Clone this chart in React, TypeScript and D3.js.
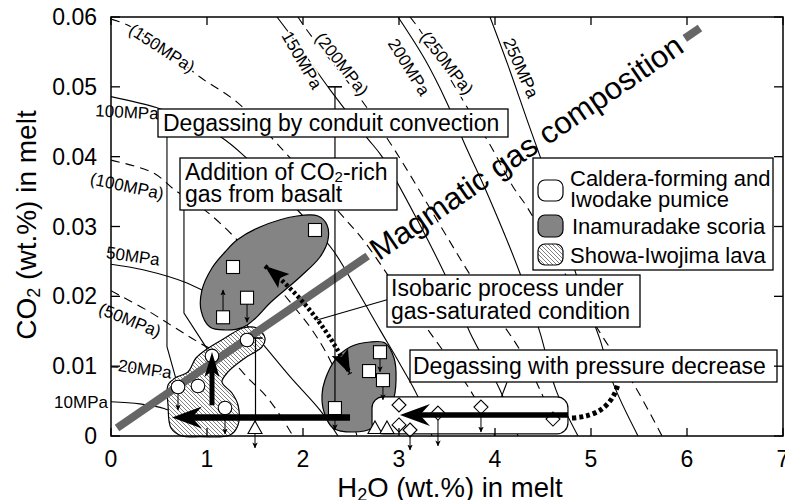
import React from 'react';
import * as d3 from 'd3';

type P = [number, number];

const xTickValues = [0, 1, 2, 3, 4, 5, 6, 7];
const yTickValues = [0, 0.01, 0.02, 0.03, 0.04, 0.05, 0.06];
const yTickLabels = ['0', '0.01', '0.02', '0.03', '0.04', '0.05', '0.06'];

// Solid isobars (H2O wt.%, CO2 wt.%)
const iso10MPa: P[] = [[0, 0.0049], [0.30, 0.0046], [0.56, 0.0039], [0.77, 0.0026], [0.91, 0]];
const iso20MPa: P[] = [[0, 0.0099], [0.41, 0.0093], [0.64, 0.0080], [0.82, 0.0052], [0.98, 0]];
const iso50MPa: P[] = [[0, 0.0246], [0.333, 0.0238], [0.792, 0.0219], [1.083, 0.0198], [1.344, 0.0169], [1.573, 0.0133], [1.865, 0.0085], [2.177, 0.0037], [2.365, 0]];
const iso100MPa: P[] = [[0, 0.0486], [0.479, 0.0470], [0.823, 0.0451], [1.156, 0.0427], [1.396, 0.0400], [1.708, 0.0357], [2.021, 0.0312], [2.3125, 0.0266], [2.5625, 0.0209], [2.802, 0.0152], [3.01, 0.0103], [3.198, 0.0056], [3.344, 0]];
const iso150MPa: P[] = [[1.729, 0.06], [1.969, 0.0556], [2.281, 0.0496], [2.667, 0.0427], [2.823, 0.0400], [3.219, 0.0302], [3.531, 0.0216], [3.740, 0.0148], [4.052, 0.0066], [4.240, 0]];
const iso200MPa: P[] = [[2.990, 0.06], [3.271, 0.0539], [3.5, 0.0477], [3.6875, 0.0417], [3.917, 0.0348], [4.260, 0.0233], [4.469, 0.0148], [4.635, 0.0066], [4.865, 0]];
const iso250MPa: P[] = [[3.948, 0.06], [4.135, 0.0531], [4.333, 0.0453], [4.552, 0.0367], [4.729, 0.0281], [4.9375, 0.0195], [5.094, 0.0138], [5.229, 0.0076], [5.490, 0]];

// Dashed isobars
const isoD50MPa: P[] = [[0, 0.0208], [0.375, 0.0180], [0.667, 0.0155], [0.927, 0.0133], [1.240, 0.0109], [1.448, 0.0080], [1.604, 0.0059], [1.760, 0.0030], [1.896, 0]];
const isoD100MPa: P[] = [[0, 0.0395], [0.4375, 0.0377], [0.667, 0.0352], [1.0, 0.0321], [1.3125, 0.0281], [1.604, 0.0235], [1.865, 0.0192], [2.094, 0.0152], [2.281, 0.0109], [2.4375, 0.0059], [2.5625, 0]];
const isoD150MPa: P[] = [[0, 0.0597], [0.167, 0.0589], [0.510, 0.0560], [0.927, 0.0514], [1.3125, 0.0478], [1.760, 0.0414], [2.385, 0.0319], [2.625, 0.0281], [2.958, 0.0216], [3.323, 0.0148], [3.740, 0.0066], [4.0, 0]];
const isoD200MPa: P[] = [[1.948, 0.06], [2.042, 0.0581], [2.594, 0.0484], [2.906, 0.0420], [3.115, 0.0374], [3.427, 0.0302], [3.740, 0.0231], [4.052, 0.0166], [4.260, 0.0123], [4.469, 0.0066], [4.677, 0]];
const isoD250MPa: P[] = [[3.115, 0.06], [3.219, 0.0581], [3.479, 0.0524], [3.708, 0.0471], [3.948, 0.0417], [4.1875, 0.0357], [4.333, 0.0328], [4.677, 0.0245], [5.094, 0.0148], [5.4375, 0.0076], [5.740, 0]];

const solidIsobars = [iso10MPa, iso20MPa, iso50MPa, iso100MPa, iso150MPa, iso200MPa, iso250MPa];
const dashedIsobars = [isoD50MPa, isoD100MPa, isoD150MPa, isoD200MPa, isoD250MPa];

// isobar labels: text, H2O, CO2, angle
const isobarLabelText = ['(150MPa)', '150MPa', '(200MPa)', '200MPa', '(250MPa)', '250MPa', '100MPa', '(100MPa)', '50MPa', '(50MPa)', '20MPa', '10MPa'];
const isobarLabelH2O = [0.531, 1.99, 2.406, 3.104, 3.5, 4.271, 0.167, 0.167, 0.229, 0.198, 0.354, -0.3125];
const isobarLabelCO2 = [0.05556, 0.05385, 0.05327, 0.05284, 0.05342, 0.0527, 0.0464, 0.0358, 0.02578, 0.01661, 0.0096, 0.00487];
const isobarLabelAngle = [33, 60, 52, 58, 52, 66, 3, 12, 8, 22, 8, 0];

// Magmatic gas composition trend
const magmaticGas: P[] = [[0.0625, 0.00115], [6.135, 0.05843]];

// Sample regions
const scoriaUpper: P[] = [[1.3125, 0.02807], [1.552, 0.02993], [1.9375, 0.0315], [2.156, 0.0315], [2.25, 0.03022], [2.26, 0.02807], [2.177, 0.02563], [1.969, 0.02277], [1.656, 0.01905], [1.5, 0.0168], [1.375, 0.01555], [1.1875, 0.01518], [1.031, 0.01561], [0.9375, 0.01804], [0.948, 0.02091], [1.052, 0.02406], [1.1875, 0.02635]];
const scoriaLower: P[] = [[2.229, 0.00802], [2.333, 0.01088], [2.49, 0.01275], [2.698, 0.01346], [2.854, 0.01332], [2.948, 0.01117], [2.969, 0.00802], [2.9375, 0.00516], [2.802, 0.00301], [2.719, 0.00115], [2.521, 0.00057], [2.3125, 0.00115], [2.219, 0.00344], [2.198, 0.00587]];
const lavaRegion: P[] = [[1.375, 0.01547], [1.521, 0.01547], [1.604, 0.01403], [1.573, 0.01275], [1.396, 0.01117], [1.219, 0.00917], [1.156, 0.00773], [1.26, 0.00616], [1.323, 0.00444], [1.323, 0.00158], [1.24, 0.00014], [0.927, -0.0001], [0.74, 0], [0.625, 0.00115], [0.594, 0.00444], [0.594, 0.0073], [0.667, 0.00831], [0.802, 0.00917], [0.885, 0.01117], [1.0, 0.01246], [1.1875, 0.01403]];
const pumiceH2O: P = [2.719, 4.76];
const pumiceCO2: P = [0.0003, 0.00559];

// Data points (arrowTo = value below detection shown by arrow; upper = upper bound bar)
const squares = [
  { h: 2.125, c: 0.0295 },
  { h: 1.271, c: 0.0242 },
  { h: 1.417, c: 0.0198, arrowTo: 0.0163 },
  { h: 1.167, c: 0.0170, arrowTo: 0.0209 },
  { h: 2.802, c: 0.0120, arrowTo: 0.0092 },
  { h: 2.688, c: 0.0093 },
  { h: 2.833, c: 0.0080, arrowTo: 0.0052 },
  { h: 2.333, c: 0.0040, arrowTo: 0.0009, upper: 0.05 },
];
const circles = [
  { h: 1.417, c: 0.01375 },
  { h: 1.052, c: 0.01146 },
  { h: 0.906, c: 0.00716 },
  { h: 0.698, c: 0.00702, arrowTo: 0.00372 },
  { h: 1.1875, c: 0.00401, arrowTo: 0.0003 },
];
const triangles = [
  { h: 1.5, c: 0.00115, arrowTo: -0.0017, upper: 0.01403 },
  { h: 2.75, c: 0.00115 },
  { h: 2.875, c: 0.00115 },
];
const diamonds = [
  { h: 3.0, c: 0.00444 },
  { h: 3.0, c: 0.00158 },
  { h: 3.115, c: 0.00086, arrowTo: -0.002 },
  { h: 3.406, c: 0.00329, arrowTo: -0.0014 },
  { h: 3.854, c: 0.00415, arrowTo: 0.00057 },
  { h: 4.604, c: 0.00243 },
];

// Process arrows
const degassingArrows: P[][] = [
  [[2.49, 0.00265], [0.635, 0.00265]],
  [[4.76, 0.0030], [3.01, 0.0030]],
];
const basaltArrow: P[] = [[1.052, 0.0044], [1.052, 0.01203]];
const isobaricArrow: P[] = [[1.604, 0.02434], [2.177, 0.01804], [2.49, 0.00888]];
const deepDegassing: P[] = [[4.802, 0.00258], [5.198, 0.00286], [5.281, 0.00745]];
const leaderLines: P[][] = [
  [[0.583, 0.0428], [0.583, 0.0128], [0.802, 0.0020]],
  [[0.76, 0.0324], [0.76, 0.0176], [1.01, 0.0123]],
  [[2.875, 0.0195], [2.146, 0.0166]],
  [[4.125, 0.0077], [4.031, 0.0043]],
];

const FONT = "'Liberation Sans', Arial, Helvetica, sans-serif";

export default function App() {
  const x = d3.scaleLinear().domain([0, 7]).range([111, 783]);
  const y = d3.scaleLinear().domain([0, 0.06]).range([436, 17]);
  const smooth = d3.line<P>().x(d => x(d[0])).y(d => y(d[1])).curve(d3.curveCatmullRom.alpha(0.5));
  const closed = d3.line<P>().x(d => x(d[0])).y(d => y(d[1])).curve(d3.curveCatmullRomClosed.alpha(0.5));
  const straight = d3.line<P>().x(d => x(d[0])).y(d => y(d[1]));

  const bigArrow = (from: P, to: P, shaft: number, L: number, hw: number, notch: number, key: string) => {
    const x1 = x(from[0]), y1 = y(from[1]), x2 = x(to[0]), y2 = y(to[1]);
    const len = Math.hypot(x2 - x1, y2 - y1);
    const ux = (x2 - x1) / len, uy = (y2 - y1) / len;
    const px = -uy, py = ux;
    const bx = x2 - ux * L, by = y2 - uy * L;
    const nx = x2 - ux * (L - notch), ny = y2 - uy * (L - notch);
    return (
      <g key={key}>
        <line x1={x1} y1={y1} x2={nx} y2={ny} stroke="#000" strokeWidth={shaft} />
        <path d={`M${x2},${y2}L${bx + px * hw},${by + py * hw}L${nx},${ny}L${bx - px * hw},${by - py * hw}Z`} fill="#000" />
      </g>
    );
  };

  const headAt = (tip: P, toward: P, L: number, hw: number, key: string) => {
    const tx = x(tip[0]), ty = y(tip[1]), cx = x(toward[0]), cy = y(toward[1]);
    const len = Math.hypot(cx - tx, cy - ty);
    const ux = (cx - tx) / len, uy = (cy - ty) / len;
    const px = -uy, py = ux;
    const bx = tx + ux * L, by = ty + uy * L;
    const nx = tx + ux * L * 0.8, ny = ty + uy * L * 0.8;
    return <path key={key} d={`M${tx},${ty}L${bx + px * hw},${by + py * hw}L${nx},${ny}L${bx - px * hw},${by - py * hw}Z`} fill="#000" />;
  };

  const quad = (pts: P[]) => `M${x(pts[0][0])},${y(pts[0][1])}Q${x(pts[1][0])},${y(pts[1][1])} ${x(pts[2][0])},${y(pts[2][1])}`;

  const smallArrow = (h: number, c: number, to: number, key: string) => (
    <line key={key} x1={x(h)} y1={y(c)} x2={x(h)} y2={y(to)} stroke="#000" strokeWidth={1} markerEnd="url(#sa)" />
  );

  const [g0, g1] = magmaticGas;
  const gx0 = x(g0[0]), gy0 = y(g0[1]), gx1 = x(g1[0]), gy1 = y(g1[1]);
  const gAngle = Math.atan2(gy1 - gy0, gx1 - gx0) * 180 / Math.PI;
  const lerp = (t: number) => [gx0 + (gx1 - gx0) * t, gy0 + (gy1 - gy0) * t];
  const gBreak1 = lerp(0.43), gBreak2 = lerp(0.974), gMid = lerp(0.702);

  const halo = { stroke: '#fff', strokeWidth: 3.5, paintOrder: 'stroke' as const, strokeLinejoin: 'round' as const };

  return (
    <svg width={785} height={500} style={{ position: 'absolute', left: 0, top: 0, background: '#fff' }} fontFamily={FONT}>
      <defs>
        <pattern id="hatch" patternUnits="userSpaceOnUse" width={4} height={4}>
          <rect width={4} height={4} fill="#fff" />
          <path d="M0,0L4,4M-1,3L1,5M3,-1L5,1" stroke="#555" strokeWidth={0.75} />
        </pattern>
        <marker id="sa" viewBox="0 0 10 10" refX={9} refY={5} markerWidth={6} markerHeight={7} markerUnits="userSpaceOnUse" orient="auto">
          <path d="M0,0.5L10,5L0,9.5L2.5,5Z" fill="#000" />
        </marker>
        <clipPath id="plot"><rect x={111} y={17} width={672} height={419} /></clipPath>
      </defs>

      {/* isobars */}
      <g clipPath="url(#plot)" fill="none" stroke="#000">
        {solidIsobars.map((d, i) => <path key={'s' + i} d={smooth(d) || ''} strokeWidth={1.1} />)}
        {dashedIsobars.map((d, i) => <path key={'d' + i} d={smooth(d) || ''} strokeWidth={1.1} strokeDasharray="9 6" />)}
      </g>

      {/* leader lines */}
      {leaderLines.map((d, i) => <path key={'l' + i} d={straight(d) || ''} fill="none" stroke="#000" strokeWidth={1.1} />)}

      {/* regions */}
      <path d={closed(scoriaUpper) || ''} fill="#848484" stroke="#000" strokeWidth={1.2} />
      <path d={closed(scoriaLower) || ''} fill="#848484" stroke="#000" strokeWidth={1.2} />
      <path d={closed(lavaRegion) || ''} fill="url(#hatch)" stroke="#000" strokeWidth={1.2} />
      <rect x={x(pumiceH2O[0])} y={y(pumiceCO2[1])} width={x(pumiceH2O[1]) - x(pumiceH2O[0])} height={y(pumiceCO2[0]) - y(pumiceCO2[1])} rx={11} fill="#fff" stroke="#000" strokeWidth={1.2} />

      {/* magmatic gas composition band */}
      <line x1={gx0} y1={gy0} x2={gBreak1[0]} y2={gBreak1[1]} stroke="#666" strokeWidth={8} />
      <line x1={gBreak2[0]} y1={gBreak2[1]} x2={gx1} y2={gy1} stroke="#666" strokeWidth={8} />
      <text transform={`translate(${gMid[0]},${gMid[1]}) rotate(${gAngle})`} textAnchor="middle" dy="0.35em" fontSize={31} textLength={372} lengthAdjust="spacingAndGlyphs">Magmatic gas composition</text>

      {/* error bars (upper bounds) */}
      {[...squares, ...triangles].filter(p => (p as any).upper !== undefined).map((p, i) => {
        const up = (p as any).upper as number;
        const xc = x(p.h) + (i === 1 ? 0.5 : 0);
        return (
          <g key={'eb' + i} stroke="#000" strokeWidth={1.2}>
            <line x1={xc} y1={y(p.c)} x2={xc} y2={y(up)} />
            <line x1={xc - 7} y1={y(up)} x2={xc + 7} y2={y(up)} strokeWidth={1.6} />
          </g>
        );
      })}

      {/* small arrows for limits */}
      {[...squares, ...circles, ...triangles, ...diamonds].filter(p => (p as any).arrowTo !== undefined).map((p, i) => smallArrow(p.h, p.c, (p as any).arrowTo, 'a' + i))}

      {/* points */}
      {squares.map((p, i) => <rect key={'sq' + i} x={x(p.h) - 6.5} y={y(p.c) - 6.5} width={13} height={13} fill="#fff" stroke="#000" strokeWidth={1.1} />)}
      {circles.map((p, i) => <circle key={'ci' + i} cx={x(p.h)} cy={y(p.c)} r={6.8} fill="#fff" stroke="#000" strokeWidth={1.1} />)}
      {triangles.map((p, i) => {
        const cx = x(p.h), cy = y(p.c);
        return <path key={'tr' + i} d={`M${cx},${cy - 7}L${cx + 7},${cy + 5.5}L${cx - 7},${cy + 5.5}Z`} fill="#fff" stroke="#000" strokeWidth={1.1} />;
      })}
      {diamonds.map((p, i) => {
        const cx = x(p.h), cy = y(p.c);
        return <path key={'di' + i} d={`M${cx},${cy - 7}L${cx + 7},${cy}L${cx},${cy + 7}L${cx - 7},${cy}Z`} fill="#fff" stroke="#000" strokeWidth={1.1} />;
      })}

      {/* process arrows */}
      {bigArrow(degassingArrows[0][0], degassingArrows[0][1], 6.5, 30, 11, 10, 'da0')}
      {bigArrow(degassingArrows[1][0], degassingArrows[1][1], 5.5, 30, 11, 10, 'da1')}
      {bigArrow(basaltArrow[0], basaltArrow[1], 5, 25, 7.5, 6, 'ba')}
      <path d={quad(isobaricArrow)} fill="none" stroke="#000" strokeWidth={4.5} strokeDasharray="3 2.5" />
      {headAt(isobaricArrow[0], isobaricArrow[1], 24, 9, 'h1')}
      {headAt(isobaricArrow[2], isobaricArrow[1], 24, 9, 'h2')}
      <path d={quad(deepDegassing)} fill="none" stroke="#000" strokeWidth={5} strokeDasharray="4 3" />

      {/* isobar labels */}
      {isobarLabelText.map((t, i) => (
        <text key={'il' + i} transform={`translate(${x(isobarLabelH2O[i])},${y(isobarLabelCO2[i])}) rotate(${isobarLabelAngle[i]})`} textAnchor="middle" dy="0.35em" fontSize={17} {...halo}>{t}</text>
      ))}

      {/* annotation boxes */}
      <g fontSize={23}>
        <rect x={158} y={109} width={350} height={28} fill="#fff" stroke="#000" strokeWidth={1.3} />
        <text x={163} y={131}>Degassing by conduit convection</text>

        <rect x={180} y={158} width={217} height={52} fill="#fff" stroke="#000" strokeWidth={1.3} />
        <text x={185} y={180}>Addition of CO<tspan fontSize={15} dy={2}>2</tspan><tspan dy={-2}>-rich</tspan></text>
        <text x={185} y={202}>gas from basalt</text>

        <rect x={387} y={275} width={253} height={52} fill="#fff" stroke="#000" strokeWidth={1.3} />
        <text x={391} y={296}>Isobaric process under</text>
        <text x={391} y={319}>gas-saturated condition</text>

        <rect x={410} y={350} width={367} height={32} fill="#fff" stroke="#000" strokeWidth={1.3} />
        <text x={413} y={374}>Degassing with pressure decrease</text>
      </g>

      {/* legend */}
      <g fontSize={22}>
        <rect x={533} y={158} width={240} height={112} fill="#fff" stroke="#000" strokeWidth={1.3} />
        <rect x={538} y={180} width={25} height={21} rx={7} fill="#fff" stroke="#000" strokeWidth={1.2} />
        <text x={570} y={186}>Caldera-forming and</text>
        <text x={570} y={207}>Iwodake pumice</text>
        <rect x={538} y={215} width={25} height={22} rx={7} fill="#848484" stroke="#000" strokeWidth={1.2} />
        <text x={572} y={234}>Inamuradake scoria</text>
        <rect x={538} y={244} width={25} height={21} rx={7} fill="url(#hatch)" stroke="#000" strokeWidth={1.2} />
        <text x={570} y={263}>Showa-Iwojima lava</text>
      </g>

      {/* frame and ticks */}
      <rect x={111} y={17} width={672} height={419} fill="none" stroke="#000" strokeWidth={1.5} />
      <g stroke="#000" strokeWidth={1.3}>
        {xTickValues.map(v => (
          <g key={'xt' + v}>
            <line x1={x(v)} x2={x(v)} y1={436} y2={428} />
            <line x1={x(v)} x2={x(v)} y1={17} y2={25} />
          </g>
        ))}
        {yTickValues.map(v => (
          <g key={'yt' + v}>
            <line x1={111} x2={120} y1={y(v)} y2={y(v)} />
            <line x1={783} x2={774} y1={y(v)} y2={y(v)} />
          </g>
        ))}
      </g>
      <g fontSize={23}>
        {xTickValues.map(v => <text key={'xl' + v} x={x(v)} y={467} textAnchor="middle">{v}</text>)}
        {yTickValues.map((v, i) => <text key={'yl' + v} x={97} y={y(v) + 8} textAnchor="end">{yTickLabels[i]}</text>)}
      </g>

      {/* axis titles */}
      <text x={450} y={497} textAnchor="middle" fontSize={27.5}>H<tspan fontSize={18} dy={4}>2</tspan><tspan dy={-4}>O (wt.%) in melt</tspan></text>
      <text transform="translate(36,225) rotate(-90)" textAnchor="middle" fontSize={28}>CO<tspan fontSize={18} dy={4}>2</tspan><tspan dy={-4}> (wt.%) in melt</tspan></text>
    </svg>
  );
}
